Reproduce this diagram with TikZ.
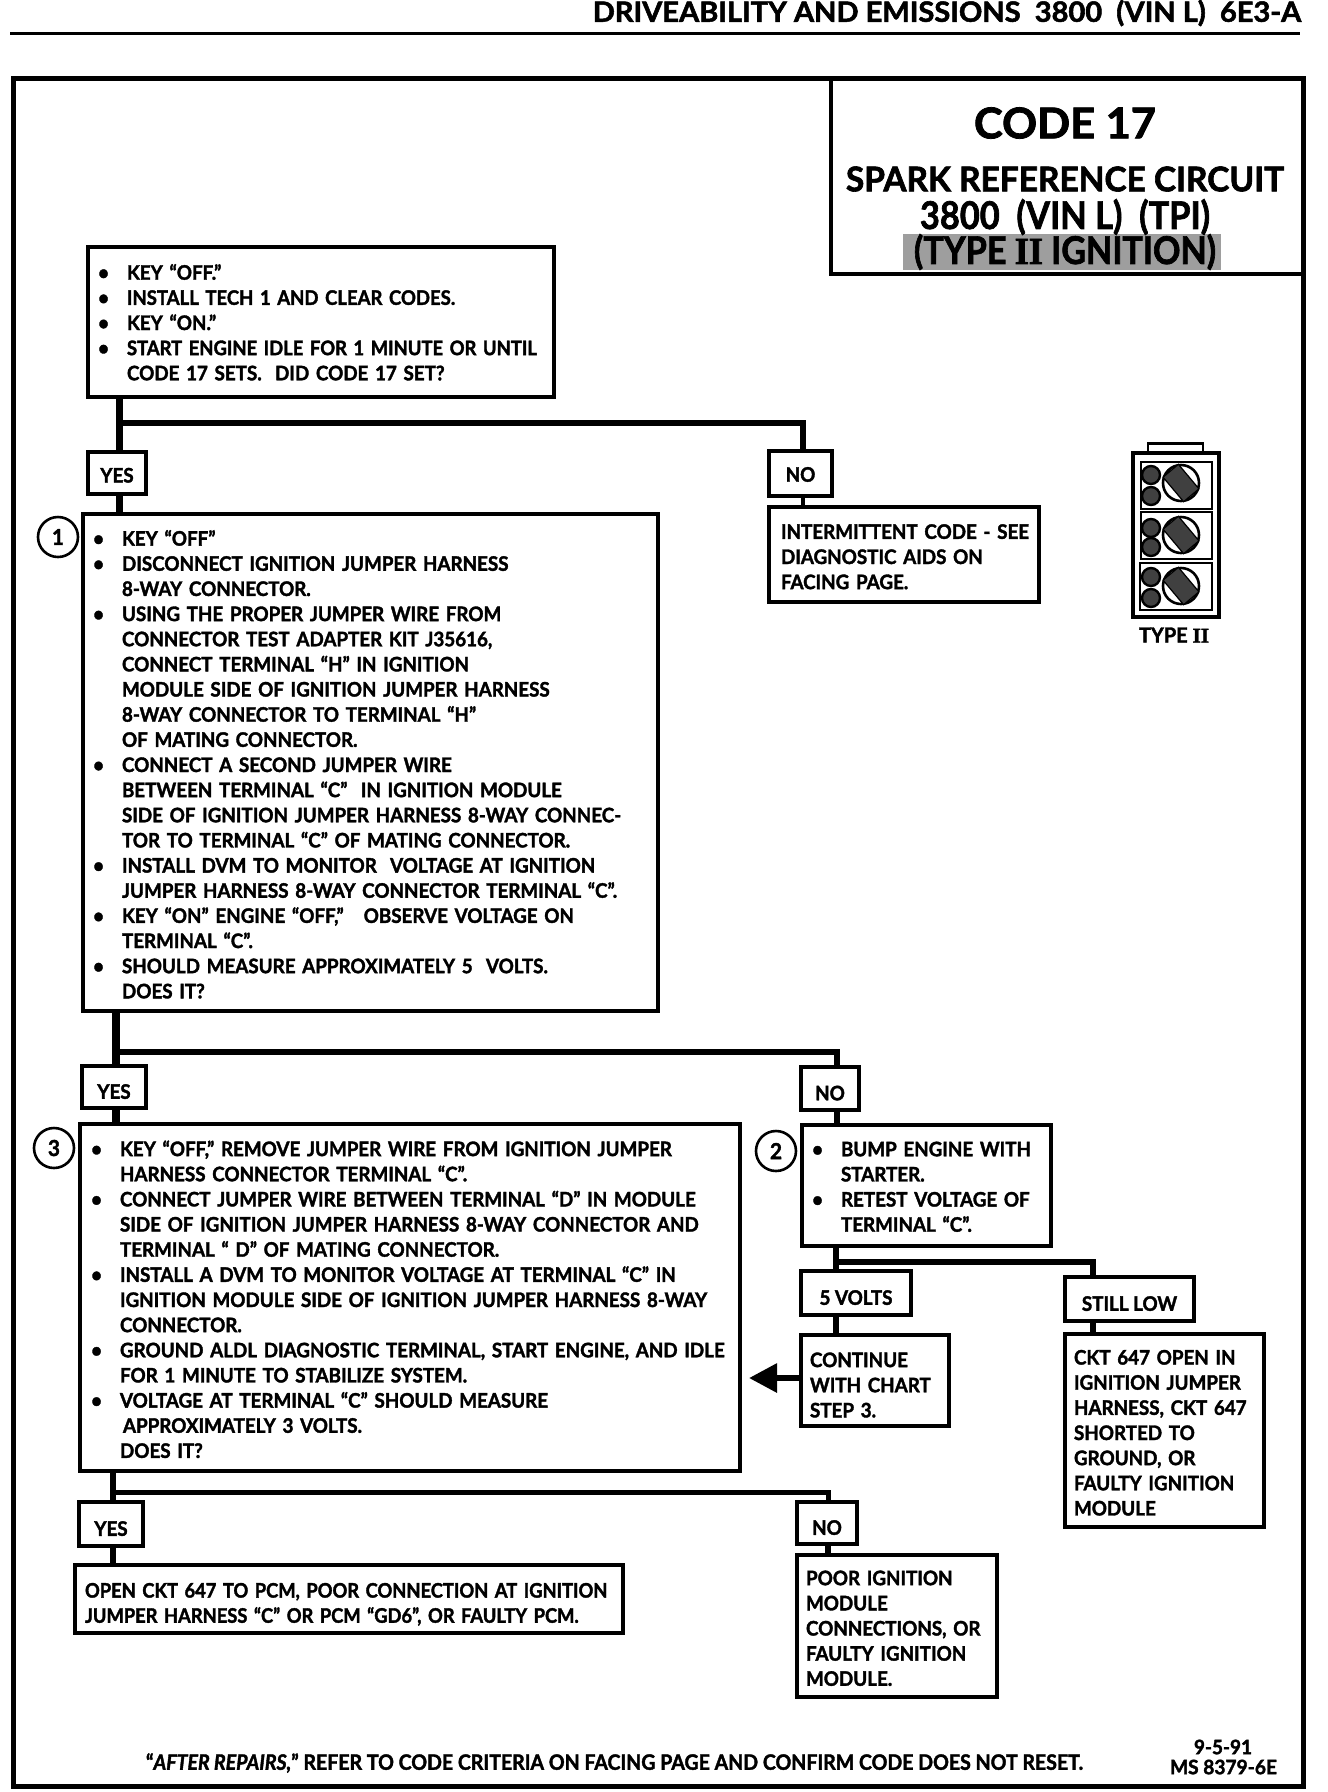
\documentclass[tikz,border=0pt]{standalone}
\usepackage{fontspec}
\usepackage{graphicx}
\setmainfont{Lato}[FakeStretch=0.94,BoldFeatures={FakeBold=1.8},BoldItalicFeatures={FakeBold=1.8}]
\newfontfamily\romanii{Liberation Serif}[FakeBold=2]
\usetikzlibrary{arrows.meta,calc}
\newcommand{\bl}{\leavevmode\llap{\textbullet\hspace{18pt}}}
\newcommand{\fitline}[3]{\resizebox{#1pt}{#2pt}{#3}}
\tikzset{
  x=1pt,y=-1pt,
  body/.style={font=\fontsize{20}{25.15}\selectfont\bfseries},
  bx/.style n args={5}{draw=black,line width=3.2pt,fill=white,outer sep=0pt,inner sep=0pt,
    body,align=left,anchor=center,
    execute at begin node={\leftskip=#5pt\relax\vskip -6pt\relax},
    at={({(#1+#3)/2},{(#2+#4)/2})},
    minimum width={#3-#1},minimum height={#4-#2},text width={#3-#1}},
  drop/.style={execute at begin node={\vskip #1pt\relax}},
  lab/.style n args={4}{draw=black,line width=3.2pt,fill=white,outer sep=0pt,inner sep=0pt,
    body,align=center,anchor=center,text height=23.6pt,text depth=0pt,
    at={({(#1+#3)/2},{(#2+#4)/2})},
    minimum width={#3-#1},minimum height={#4-#2}},
  stepnum/.style={circle,draw=black,line width=2.6pt,fill=white,minimum size=40pt,inner sep=0pt,
    font=\fontsize{22}{24}\selectfont\bfseries},
  wire/.style={draw=black,line width=6.5pt},
  txt/.style={inner sep=0pt,outer sep=0pt,font=\bfseries},
  pin/.style={draw=black,line width=2.4pt,fill=black!75},
  well/.style={draw=black,line width=2.6pt,fill=white},
}
\begin{document}
\begin{tikzpicture}
\useasboundingbox (0,0) rectangle (1328,1792);
\fill[white] (0,0) rectangle (1328,1792);

% header
\node[txt,anchor=east] (hdr) at (1301,13) {\fitline{708}{22}{DRIVEABILITY AND EMISSIONS\ \ 3800\ \ (VIN L)\ \ 6E3-A}};
\coordinate (hl) at (10,33);
\coordinate (hr) at (1300,33);
\draw[line width=3pt] (hl) -- (hr);

% frame
\draw[line width=5pt,line join=miter] (13,78) rectangle (1303,1786);

% title block
\fill[black!38] (903,234) rectangle (1221,270);
\draw[line width=3.2pt] (831,78) -- (831,274) -- (1303,274);
\node[txt] (t1) at (1065,123) {\fitline{182}{31}{CODE 17}};
\node[txt] (t2) at (1065,179) {\fitline{438}{25}{SPARK REFERENCE CIRCUIT}};
\node[txt] (t3) at (1065,217) {\fitline{290}{30}{3800\ \ (VIN L)\ \ (TPI)}};
\node[txt] (t4) at (1065,252) {\fitline{302}{30}{(TYPE {\romanii II} IGNITION)}};

% boxes
\node[bx={88}{247}{554}{397}{39},drop=-3] (A) {\bl KEY “OFF.”\\\bl \scalebox{.985}[1]{INSTALL TECH 1 AND CLEAR CODES.}\\\bl KEY “ON.”\\\bl \scalebox{.98}[1]{START ENGINE IDLE FOR 1 MINUTE OR UNTIL}\\CODE 17 SETS.\ \ DID CODE 17 SET?};
\node[lab={88}{452}{146}{494},text height=19pt] (yes1) {YES};
\node[lab={769}{451}{832}{496},text height=16.4pt] (no1) {NO};
\node[bx={769}{507}{1039}{602}{12}] (C) {INTERMITTENT CODE - SEE\\DIAGNOSTIC AIDS ON\\FACING PAGE.};
\node[bx={83}{514}{658}{1011}{39}] (B) {\bl KEY “OFF”\\\bl DISCONNECT IGNITION JUMPER HARNESS\\8-WAY CONNECTOR.\\\bl USING THE PROPER JUMPER WIRE FROM\\CONNECTOR TEST ADAPTER KIT J35616,\\CONNECT TERMINAL “H” IN IGNITION\\MODULE SIDE OF IGNITION JUMPER HARNESS\\8-WAY CONNECTOR TO TERMINAL “H”\\OF MATING CONNECTOR.\\\bl CONNECT A SECOND JUMPER WIRE\\BETWEEN TERMINAL “C”\ \ IN IGNITION MODULE\\SIDE OF IGNITION JUMPER HARNESS 8-WAY CONNEC-\\TOR TO TERMINAL “C” OF MATING CONNECTOR.\\\bl INSTALL DVM TO MONITOR\ \ VOLTAGE AT IGNITION\\JUMPER HARNESS 8-WAY CONNECTOR TERMINAL “C”.\\\bl KEY “ON” ENGINE “OFF,”\ \ \ OBSERVE VOLTAGE ON\\TERMINAL “C”.\\\bl SHOULD MEASURE APPROXIMATELY 5\ \ VOLTS.\\DOES IT?};
\node[stepnum] (n1) at (58,537) {1};
\node[lab={82}{1066}{146}{1108}] (yes2) {YES};
\node[lab={801}{1067}{859}{1110}] (no2) {NO};
\node[bx={80}{1124}{740}{1471}{40}] (D) {\bl KEY “OFF,” REMOVE JUMPER WIRE FROM IGNITION JUMPER\\HARNESS CONNECTOR TERMINAL “C”.\\\bl CONNECT JUMPER WIRE BETWEEN TERMINAL “D” IN MODULE\\SIDE OF IGNITION JUMPER HARNESS 8-WAY CONNECTOR\ AND\\TERMINAL “ D” OF MATING CONNECTOR.\\\bl INSTALL A DVM TO MONITOR VOLTAGE AT TERMINAL “C” IN\\IGNITION MODULE SIDE OF IGNITION JUMPER HARNESS 8-WAY\\CONNECTOR.\\\bl GROUND ALDL DIAGNOSTIC TERMINAL, START ENGINE, AND IDLE\\FOR 1 MINUTE TO STABILIZE SYSTEM.\\\bl VOLTAGE AT TERMINAL “C” SHOULD MEASURE\\\hspace*{3pt}APPROXIMATELY 3 VOLTS.\\DOES IT?};
\node[stepnum] (n3) at (54,1148) {3};
\node[bx={802}{1125}{1051}{1246}{39},drop=-2] (E) {\bl BUMP ENGINE WITH\\STARTER.\\\bl RETEST VOLTAGE OF\\TERMINAL “C”.};
\node[stepnum] (n2) at (776,1151) {2};
\node[lab={801}{1271}{911}{1315}] (volts) {5 VOLTS};
\node[lab={1065}{1277}{1194}{1321}] (low) {STILL LOW};
\node[bx={801}{1335}{949}{1426}{9},drop=4.5] (F) {CONTINUE\\WITH CHART\\STEP 3.};
\node[bx={1065}{1334}{1264}{1527}{9}] (G) {CKT 647 OPEN IN\\IGNITION JUMPER\\HARNESS, CKT 647\\SHORTED TO\\GROUND, OR\\FAULTY IGNITION\\MODULE};
\node[lab={79}{1502}{143}{1546}] (yes3) {YES};
\node[lab={797}{1502}{857}{1544}] (no3) {NO};
\node[bx={75}{1565}{623}{1633}{10},drop=6] (I) {\leavevmode\scalebox{.975}[1]{OPEN CKT 647 TO PCM, POOR CONNECTION AT IGNITION}\\\scalebox{.975}[1]{JUMPER HARNESS “C” OR PCM “GD6”, OR FAULTY PCM.}};
\node[bx={797}{1555}{997}{1697}{9}] (H) {POOR IGNITION\\MODULE\\CONNECTIONS, OR\\FAULTY IGNITION\\MODULE.};

% connectors: first decision
\coordinate (j1) at (119,423);
\coordinate (k1) at (803,423);
\draw[wire,line width=7pt] (A.south -| j1) -- (yes1.north -| j1);
\draw[wire,line width=7pt] (yes1.south -| j1) -- (B.north -| j1);
\draw[wire,line join=miter] (j1) -- (k1) -- (no1.north -| k1);
\draw[wire,line width=4pt] (no1.south -| k1) -- (C.north -| k1);

% connectors: second decision
\coordinate (j2) at (116,1052);
\coordinate (k2) at (837,1052);
\draw[wire,line width=8pt] (B.south -| j2) -- (yes2.north -| j2);
\draw[wire,line width=8pt] (yes2.south -| j2) -- (D.north -| j2);
\draw[wire,line join=miter] (j2) -- (k2) -- (no2.north -| k2);
\draw[wire] (no2.south -| k2) -- (E.north -| k2);

% connectors: step 2
\coordinate (j3) at (836,1262);
\coordinate (k3) at (1093,1262);
\draw[wire] (E.south -| j3) -- (volts.north -| j3);
\draw[wire] (volts.south -| j3) -- (F.north -| j3);
\draw[wire,line join=miter] (j3) -- (k3) -- (low.north -| k3);
\draw[wire] (low.south -| k3) -- (G.north -| k3);
\coordinate (tip) at (749,1378);
\draw[line width=6pt,-{Triangle[length=28pt,width=28pt]}] (F.west |- tip) -- (tip);

% connectors: third decision
\coordinate (j4) at (113,1492);
\coordinate (k4) at (828,1492);
\draw[wire,line width=6pt] (D.south -| j4) -- (yes3.north -| j4);
\draw[wire,line width=6pt] (yes3.south -| j4) -- (I.north -| j4);
\draw[wire,line width=5pt,line join=miter] (j4) -- (k4) -- (no3.north -| k4);
\draw[wire,line width=6pt] (no3.south -| k4) -- (H.north -| k4);

% type II connector drawing
\draw[line width=2.6pt] (1148,453) -- (1148,443.5) -- (1203,443.5) -- (1203,453);
\draw[line width=3.2pt] (1133,453) rectangle (1219,617);
\foreach \cy/\ca/\cb/\cw/\cx in {462/475/496/483/1141,512/528/547/535/1141,563/577/598/586/1140}{
  \draw[line width=2.6pt] (\cx,\cy) rectangle (1212,\cy+47);
  \draw[pin] (1151,\ca) circle[radius=9];
  \draw[pin] (1151,\cb) circle[radius=9];
  \draw[well] (1181,\cw) circle[radius=18];
  \begin{scope}[shift={(1181,\cw)},rotate=-50]
    \fill[black!75] (-16,-10) rectangle (16,10);
    \draw[line width=1.2pt] (-16,-10) rectangle (16,10);
  \end{scope}
}
\node[txt] (typeii) at (1174,635) {\fitline{70}{15}{TYPE {\romanii II}}};

% footer
\node[txt,anchor=west] (foot) at (146,1763) {\fitline{937}{16.5}{“\textit{AFTER REPAIRS,}” REFER TO CODE CRITERIA ON FACING PAGE AND CONFIRM CODE DOES NOT RESET.}};
\node[txt] (date) at (1223,1747) {\fitline{58}{14.5}{9-5-91}};
\node[txt,anchor=west] (ms) at (1170,1767) {\fitline{107}{14.5}{MS 8379-6E}};
\end{tikzpicture}
\end{document}
